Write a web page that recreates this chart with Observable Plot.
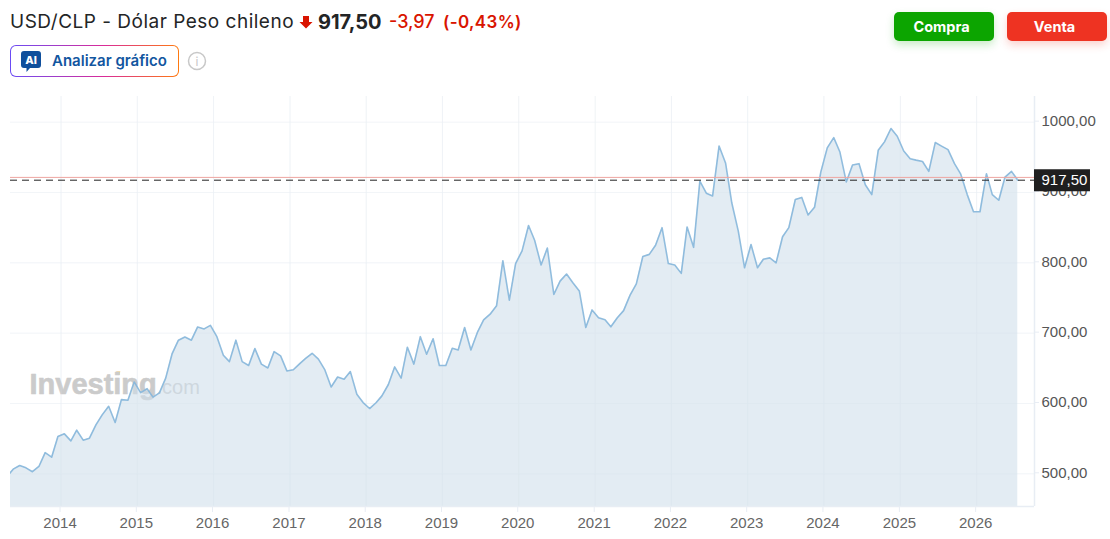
<!DOCTYPE html>
<html lang="es">
<head>
<meta charset="utf-8">
<script src="https://cdn.jsdelivr.net/npm/d3@7"></script>
<script src="https://cdn.jsdelivr.net/npm/@observablehq/plot@0.6"></script>
<style>
html,body{margin:0;padding:0;background:#fff;width:1110px;height:539px;overflow:hidden;font-family:Inter,sans-serif}
#page{position:relative;width:1110px;height:539px}
#head{position:relative;height:90px}
#head>*{position:absolute;white-space:nowrap}
#title{left:10px;top:11px;font-size:19px;line-height:22px;color:#232526;letter-spacing:.5px}
#price{left:318px;top:10px;font-size:20px;line-height:24px;font-weight:700;color:#232526}
#chg{left:389px;top:11px;font-size:18px;line-height:22px;font-weight:500;color:#d91400}
#pct{left:443px;top:11px;font-size:17px;line-height:22px;font-weight:600;color:#d91400;letter-spacing:.35px}
#arrow{left:299px;top:15px}
#ai{left:10px;top:45px;width:169px;height:32px;box-sizing:border-box;border-radius:6px;border:1px solid transparent;
background:linear-gradient(#fff,#fff) padding-box,linear-gradient(90deg,#6a4cf5,#d92b9a 55%,#ff7a10) border-box}
#ailabel{left:52px;top:51px;font-size:15px;line-height:20px;font-weight:600;color:#1256a0}
#aiicon{left:21px;top:51px}
#info{left:187px;top:51px}
.btn{top:12px;width:100px;height:29px;box-sizing:border-box;padding-right:5px;border-radius:5px;color:#fff;font:700 14.5px/29px Inter,sans-serif;text-align:center}
#buy{left:894px;background:#0ca500;box-shadow:0 4px 8px rgba(12,165,0,.22)}
#sell{left:1007px;background:#ee3322;box-shadow:0 4px 8px rgba(238,51,34,.22)}
#wmdot{position:absolute;left:116px;top:371px;width:4px;height:4px;background:#fbdfae;transform:skewX(-10deg)}
#chart{position:absolute;left:0;top:90px}
</style>
</head>
<body>
<div id="page">
<div id="head">
<div id="title">USD/CLP - Dólar Peso chileno</div>
<svg id="arrow" width="14" height="14" viewBox="0 0 14 14"><path d="M4 1h6v6h3.500L7 13.500.5 7H4z" fill="#d91400"/></svg>
<div id="price">917,50</div>
<div id="chg">-3,97</div>
<div id="pct">(-0,43%)</div>
<div id="ai"></div>
<svg id="aiicon" width="20" height="22" viewBox="0 0 20 22"><path d="M3 0h14a3 3 0 0 1 3 3v11a3 3 0 0 1-3 3H9l-3.500 4v-4H3a3 3 0 0 1-3-3V3a3 3 0 0 1 3-3z" fill="#0f4f9c"/><text x="10" y="13" text-anchor="middle" font-family="Inter,sans-serif" font-weight="800" font-size="11" fill="#fff">AI</text></svg>
<div id="ailabel">Analizar gráfico</div>
<svg id="info" width="20" height="20" viewBox="0 0 20 20"><circle cx="10" cy="10" r="8.500" fill="none" stroke="#c8c8c8" stroke-width="1.500"/><text x="10" y="14.500" text-anchor="middle" font-family="Inter,sans-serif" font-size="12" fill="#c8c8c8">i</text></svg>
<div class="btn" id="buy">Compra</div>
<div class="btn" id="sell">Venta</div>
</div>
<div id="wmdot"></div>
<div id="chart"></div>
</div>
<script>
const firstMonth = new Date(Date.UTC(2013, 3, 17));
const closes = [
  496,506.6,511.8,508.5,503,510.4,530,523.6,
  553,556.8,546.8,562,547.8,550.6,569.6,583.8,596,573,605.5,604.6,
  630.6,615.5,621,609,615,636,671,690,694.6,690,708.8,706,
  711,695,668.5,659.5,690,659.5,654,678,656,650.5,673.7,667.6,
  646.3,648,656.7,664,671.4,663,647.7,623.5,637.7,634.4,645.3,613,
  601.3,592.8,601,610.8,627,652,636,680,656,695,670,692,
  654,654,678.5,676,708,676,701,719,727,739,803,747,
  799,817,853,832,797,821,755,774,784,771.3,760,708,
  733,722,719,709,722,732,754,770,809,812,825,850,
  799,797,785,851,822,916,899,895,966,942,885,845,
  793,826,793,805,807,800,837,850,890,893,868,879,
  929,963.5,978,958,915,939,941,911,897,960,972,991,
  980,959,948,946,944,930,971,966,961,941,926,897,
  872.6,872.6,926.6,897,889,922,930,917.5
];
const yearTicks = [2014,2015,2016,2017,2018,2019,2020,2021,2022,2023,2024,2025,2026];
const priceTicks = [500,600,700,800,900,1000];
const lastPrice = 917.5;
const prevClose = 921.47;
const yDomain = [453.5, 1036.5];
const xDomain = [new Date("2013-05-04"), new Date("2026-10-05")];
const labelEnd = new Date("2027-06-30");

const series = closes.map((v, i) => ({date: d3.utcMonth.offset(firstMonth, i), value: v}));
const yearDates = yearTicks.map(y => new Date(Date.UTC(y, 0, 1)));
const fmt = d => d.toFixed(2).replace(".", ",");
const axisFont = '"Liberation Sans",Arial,sans-serif';

const chart = Plot.plot({
  width: 1110, height: 449,
  marginLeft: 10, marginRight: 76, marginTop: 6, marginBottom: 33,
  style: {background: "transparent", fontFamily: axisFont, fontSize: "15px"},
  x: {type: "utc", domain: xDomain},
  y: {domain: yDomain},
  marks: [
    Plot.ruleX(yearDates, {stroke: "#f7f8fa"}),
    Plot.ruleY(priceTicks, {stroke: "#f8f9fb"}),
    Plot.text(["Investing"], {frameAnchor: "top-left", lineAnchor: "middle", dx: 19, dy: 288, textAnchor: "start", fontSize: 29, fontWeight: 700, fill: "#cbcbcb", stroke: "#cbcbcb", strokeWidth: 0.6}),
    Plot.text([".com"], {frameAnchor: "top-left", lineAnchor: "middle", dx: 146, dy: 291, textAnchor: "start", fontSize: 20, fill: "#cccccc"}),
    Plot.areaY(series, {x: "date", y1: yDomain[0], y2: "value", fill: "#cfdfeb", fillOpacity: 0.58, clip: true}),
    Plot.ruleX(yearDates, {y1: yDomain[0], y2: yDomain[1], stroke: "#dde6ee", strokeOpacity: 0.25}),
    Plot.ruleY(priceTicks, {stroke: "#dde6ee", strokeOpacity: 0.2}),
    Plot.line(series, {x: "date", y: "value", stroke: "#85b6da", strokeWidth: 1.6, strokeOpacity: 0.9, clip: true}),
    Plot.ruleX([xDomain[1]], {stroke: "#e8edf4", strokeWidth: 1.5}),
    Plot.ruleY([yDomain[0]], {stroke: "#e8edf4", strokeWidth: 1.5}),
    Plot.axisY({anchor: "right", ticks: priceTicks, tickFormat: fmt, tickSize: 4, tickPadding: 3, dy: -1, color: "#555", stroke: "#e8edf4", label: null}),
    Plot.axisX({anchor: "bottom", ticks: yearDates, tickFormat: d => String(d.getUTCFullYear()), tickSize: 6, tickPadding: 5, dx: -1, color: "#666", stroke: "#e8edf4", label: null}),
    Plot.ruleY([prevClose], {stroke: "#eda5a0", strokeWidth: 1}),
    Plot.ruleY([lastPrice], {stroke: "#222", strokeWidth: 1, strokeDasharray: "7,5"}),
    Plot.ruleY([lastPrice], {x1: xDomain[1], x2: labelEnd, stroke: "#1f1f1f", strokeWidth: 22}),
    Plot.text([lastPrice], {x: xDomain[1], y: d => d, text: fmt, dx: 7, textAnchor: "start", fill: "#fff", fontSize: 15})
  ]
});
document.getElementById("chart").appendChild(chart);
</script>
</body>
</html>
